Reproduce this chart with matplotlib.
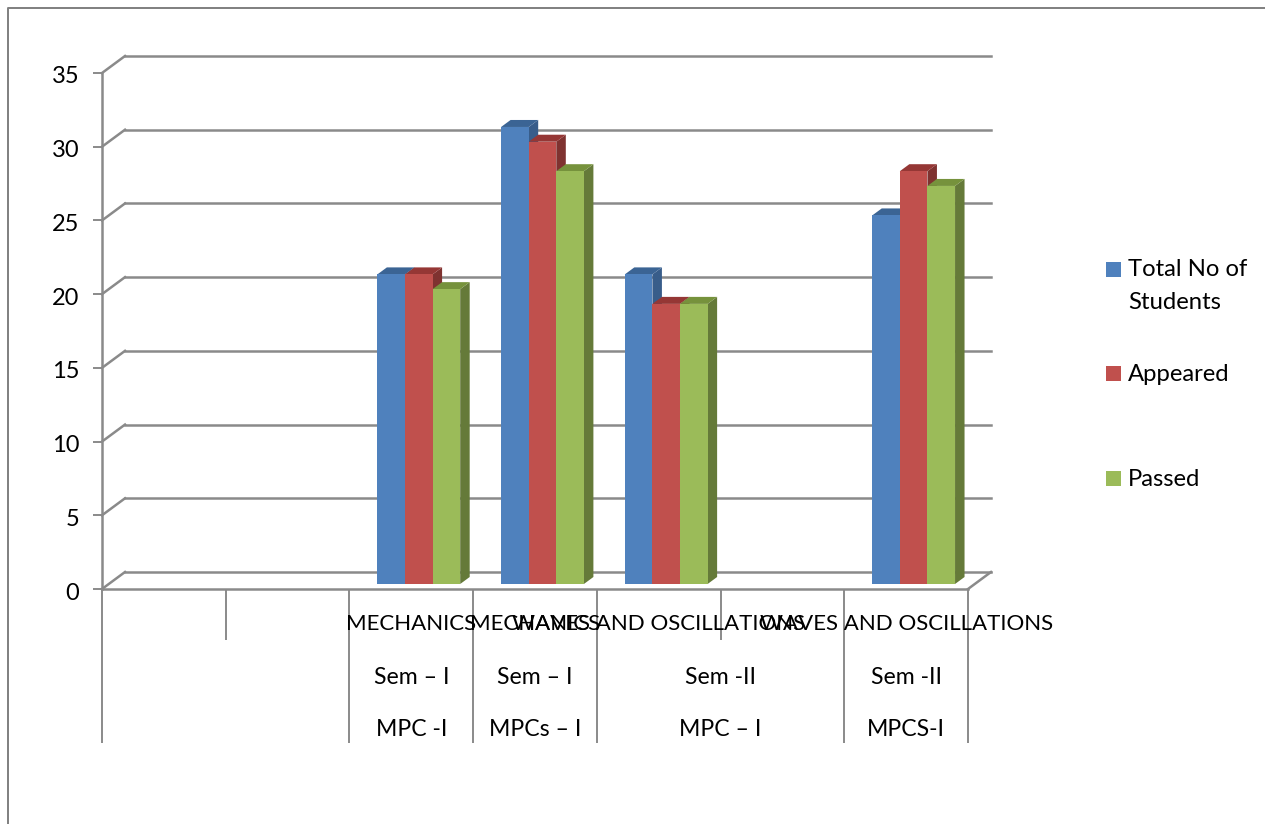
import numpy as np
import matplotlib
matplotlib.use("Agg")
import matplotlib.pyplot as plt
from matplotlib.patches import Polygon, Rectangle
from matplotlib.lines import Line2D
from matplotlib.transforms import Affine2D

plt.rcParams['font.family'] = ['Lato', 'DejaVu Sans']

# chart data
slots = np.array([2, 3, 4, 6])
total_students = [21, 31, 21, 25]
appeared = [21, 30, 19, 28]
passed = [20, 28, 19, 27]
series_names = ['Total No of\nStudents', 'Appeared', 'Passed']
y_ticks = [0, 5, 10, 15, 20, 25, 30, 35]

# (first slot, last slot, label) for each row under the axis
subject_labels = [(2, 3, 'MECHANICS'), (3, 4, 'MECHANICS'),
                  (4, 5, 'WAVES AND OSCILLATIONS'), (6, 7, 'WAVES AND OSCILLATIONS')]
sem_labels = [(2, 3, 'Sem – I'), (3, 4, 'Sem – I'), (4, 6, 'Sem -II'), (6, 7, 'Sem -II')]
group_labels = [(2, 3, 'MPC -I'), (3, 4, 'MPCs – I'), (4, 6, 'MPC – I'), (6, 7, 'MPCS-I')]

# colours: front, top, side
blue = ('#4F81BD', '#3B6494', '#385D8A')
red = ('#C0504D', '#953735', '#7F3230')
green = ('#9BBB59', '#76923C', '#657A39')
grey = '#8A8A8A'

W, H = 1265, 824
LEFT, RIGHT, Y0, Y35 = 102, 968, 589, 73

fig = plt.figure(figsize=(W / 100, H / 100), dpi=100)
ax = fig.add_axes([LEFT / W, 1 - Y0 / H, (RIGHT - LEFT) / W, (Y0 - Y35) / H])
ax.set_xlim(0, 7)
ax.set_ylim(0, 35)
ax.patch.set_alpha(0)

px_x = (RIGHT - LEFT) / 7
px_y = (Y0 - Y35) / 35


def shifted(dx, dy):
    return ax.transData + Affine2D().translate(dx, dy)


# back wall + connectors
wall_dx, wall_dy = 23, 17
for t in y_ticks:
    ax.plot([0, wall_dx / px_x], [t, t + wall_dy / px_y], color=grey, lw=1.8,
            clip_on=False, zorder=1)
    ax.plot([0, 7], [t, t], color=grey, lw=1.8, clip_on=False, zorder=1,
            transform=shifted(wall_dx, wall_dy))
ax.plot([7, 7 + wall_dx / px_x], [0, wall_dy / px_y], color=grey, lw=1.8,
        clip_on=False, zorder=1)

# bars with side and top faces
bar_w = 27.6 / px_x
off_x, off_y = 7.5, 5
depth_x, depth_y = 9.5 / px_x, 7 / px_y
bar_shift = shifted(off_x, off_y)
z = 3
for i, (vals, cols) in enumerate(zip([total_students, appeared, passed], [blue, red, green])):
    for s, v in zip(slots, vals):
        x0 = s + 0.5 + (i - 1.5) * bar_w
        x1 = x0 + bar_w
        ax.add_patch(Polygon([(x1, 0), (x1 + depth_x, depth_y), (x1 + depth_x, v + depth_y), (x1, v)],
                             fc=cols[2], ec='none', transform=bar_shift, clip_on=False, zorder=z))
        ax.add_patch(Polygon([(x0, v), (x0 + depth_x, v + depth_y), (x1 + depth_x, v + depth_y), (x1, v)],
                             fc=cols[1], ec='none', transform=bar_shift, clip_on=False, zorder=z))
        ax.bar(x0, v, bar_w, align='edge', color=cols[0], transform=bar_shift, clip_on=False, zorder=z + 0.5)
    z += 1

# axes
for side in ('top', 'right'):
    ax.spines[side].set_visible(False)
for side in ('left', 'bottom'):
    ax.spines[side].set_color(grey)
    ax.spines[side].set_linewidth(1.8)
    ax.spines[side].set_zorder(2)
ax.set_yticks(y_ticks)
ax.tick_params(axis='y', length=6.5, width=1.4, color=grey, labelsize=17, pad=10, labelcolor='black')
for lbl in ax.get_yticklabels():
    lbl.set_transform(lbl.get_transform() + Affine2D().translate(0, -2))
ax.set_xticks([0, 2, 3, 4, 6, 7])
ax.set_xticklabels([])
ax.set_xticks([1, 5], minor=True)
ax.tick_params(axis='x', which='major', length=154 * 0.72, width=1.4, color=grey)
ax.tick_params(axis='x', which='minor', length=51 * 0.72, width=1.4, color=grey)

# multi level category labels
row_pos = [(Y0 - 624.5) / (Y0 - Y35), (Y0 - 677) / (Y0 - Y35), (Y0 - 729) / (Y0 - Y35)]
row_size = [16, 16.6, 16.6]
for row, size, labels in zip(row_pos, row_size, [subject_labels, sem_labels, group_labels]):
    for a, b, txt in labels:
        ax.text((a + b) / 2, row, txt, transform=ax.get_xaxis_transform(), ha='center', va='center',
                fontsize=size, color='black', clip_on=False, zorder=6)

# legend
legend_y = [269.5, 373.5, 478.5]
for name, cols, ly in zip(series_names, [blue, red, green], legend_y):
    fig.add_artist(Rectangle((1106 / W, 1 - (ly + 7.5) / H), 15 / W, 15 / H, fc=cols[0], ec='none',
                             transform=fig.transFigure))
    if '\n' in name:
        fig.text(1128 / W, 1 - (ly - 10) / H, name, fontsize=17.2, va='top', ha='left', linespacing=1.68)
    else:
        fig.text(1128 / W, 1 - (ly + 1) / H, name, fontsize=17.2, va='center', ha='left')

# outer frame of the chart: only the left and top edges show
fig.add_artist(Line2D([8 / W, 8 / W, 1], [0, 1 - 8 / H, 1 - 8 / H], color='#7F7F7F', lw=1.4,
                      transform=fig.transFigure))

fig.savefig('out.png', dpi=100)
